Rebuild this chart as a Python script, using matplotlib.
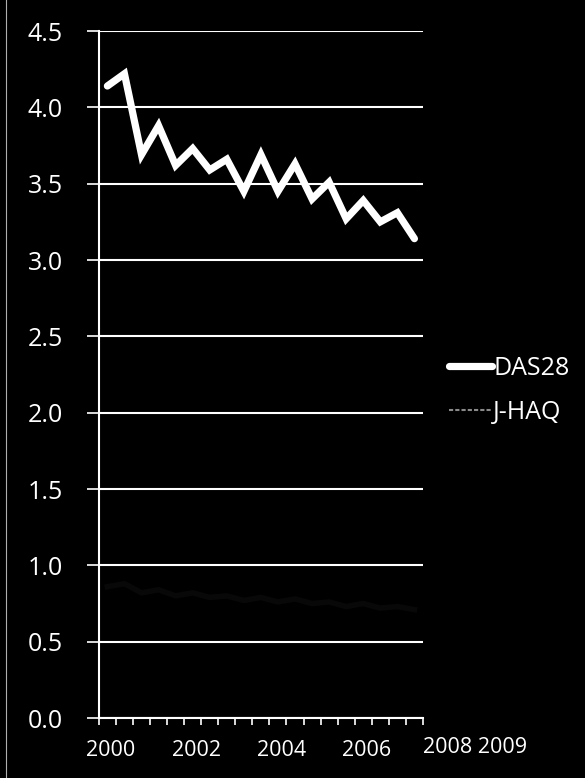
import matplotlib
matplotlib.use("Agg")
import matplotlib.pyplot as plt
from matplotlib.lines import Line2D
import numpy as np

plt.rcParams['font.family'] = ['Open Sans', 'DejaVu Sans']

# data (19 half-year observations, 2000 ... 2009)
das28 = [4.14, 4.22, 3.69, 3.88, 3.62, 3.73, 3.59, 3.66, 3.45, 3.69,
         3.45, 3.63, 3.40, 3.51, 3.27, 3.39, 3.25, 3.31, 3.14]
jhaq = [0.86, 0.88, 0.82, 0.84, 0.80, 0.82, 0.79, 0.80, 0.77, 0.79,
        0.76, 0.78, 0.75, 0.76, 0.73, 0.75, 0.72, 0.73, 0.71]
year_labels = ["2000", "2002", "2004", "2006"]
year_label_idx = [0, 5, 10, 15]
extra_label = "2008 2009"
yticks = [0.0, 0.5, 1.0, 1.5, 2.0, 2.5, 3.0, 3.5, 4.0, 4.5]

fig = plt.figure(figsize=(5.85, 7.78), dpi=100, facecolor='black')
ax = fig.add_axes([0.169, 0.0771, 0.554, 0.883], facecolor='black')

x = np.arange(len(das28))
l2, = ax.plot(x, jhaq, color='#080808', lw=4, label='J-HAQ', zorder=2)
l1, = ax.plot(x, das28, color='white', lw=5.2, label='DAS28', zorder=3,
              solid_joinstyle='miter', solid_capstyle='round')

ax.set_xlim(-0.5, len(das28) - 0.5)
ax.set_ylim(0, 4.5)
ax.set_yticks(yticks)
ax.set_yticklabels([f"{v:.1f}" for v in yticks], color='white', fontsize=18)
ax.yaxis.grid(True, color='white', lw=1.5)
ax.set_axisbelow(True)
ax.tick_params(axis='y', length=9, width=1.2, color='white', pad=17, direction='out')

ax.set_xticks(np.arange(-0.5, len(das28), 1.0))
ax.set_xticklabels([])
ax.tick_params(axis='x', length=5, width=1.2, color='white', direction='out')
for i, lab in zip(year_label_idx, year_labels):
    ax.annotate(lab, xy=(i + 0.2, 0), xycoords=('data', 'axes fraction'),
                xytext=(0, -23.5), textcoords='offset points',
                color='white', fontsize=15.5, ha='center', va='center')
ax.annotate(extra_label, xy=(len(das28) - 0.5, 0), xycoords=('data', 'axes fraction'),
            xytext=(0, -21.5), textcoords='offset points',
            color='white', fontsize=15.5, ha='left', va='center', annotation_clip=False)

for s in ['top', 'right']:
    ax.spines[s].set_visible(False)
for s in ['left', 'bottom']:
    ax.spines[s].set_color('white')
    ax.spines[s].set_linewidth(1.5)

leg = fig.legend(handles=[l1, l2], loc='center left', bbox_to_anchor=(0.768, 0.498),
                 frameon=False, fontsize=18, labelcolor='white', handlelength=1.7,
                 handletextpad=0.05, labelspacing=0.75, borderpad=0, borderaxespad=0)
leg.get_lines()[1].set_color('#8a8a8a')
leg.get_lines()[1].set_linewidth(1.5)
leg.get_lines()[1].set_linestyle((0, (2, 1)))

# scanned page edge on the left
fig.add_artist(Line2D([6 / 585, 6 / 585], [0, 1], transform=fig.transFigure,
                      color='#b0b0b0', lw=0.8))

fig.savefig('out.png', dpi=100, facecolor='black')
